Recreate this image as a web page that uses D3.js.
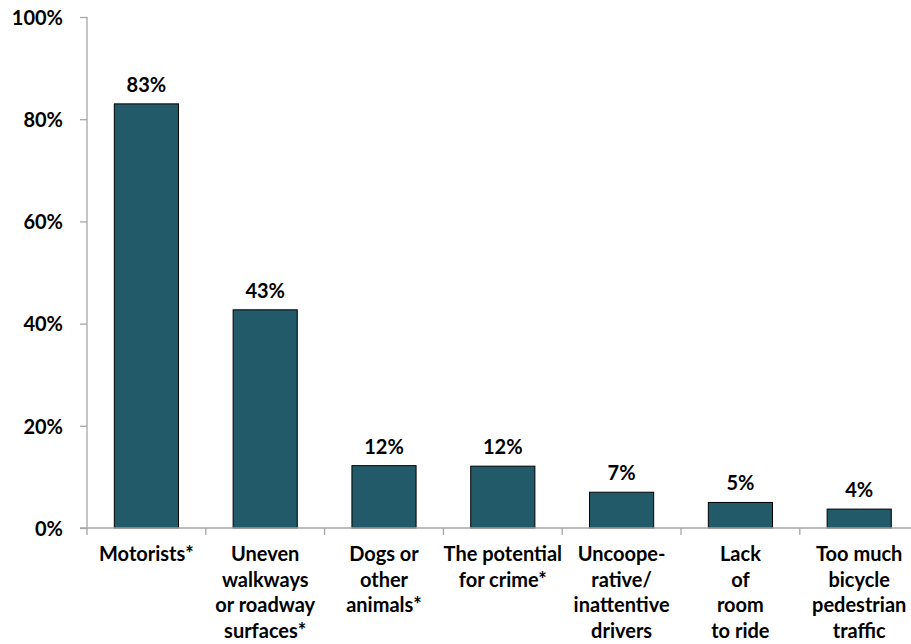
<!DOCTYPE html>
<html><head><meta charset="utf-8">
<script src="https://cdn.jsdelivr.net/npm/d3@7"></script>
<style>body{margin:0;background:#fff}svg{display:block}</style>
</head><body>
<svg id="c" width="911" height="644"></svg>
<script>
const categories = [
  ["Motorists*"],
  ["Uneven","walkways","or roadway","surfaces*"],
  ["Dogs or","other","animals*"],
  ["The potential","for crime*"],
  ["Uncoope-","rative/","inattentive","drivers"],
  ["Lack","of","room","to ride"],
  ["Too much","bicycle","pedestrian","traffic"]
];
const values = [83, 42.7, 12.2, 12.1, 7.0, 5.0, 3.7];
const valueLabels = ["83%","43%","12%","12%","7%","5%","4%"];
const yTicks = [0,20,40,60,80,100];

(function(){
const svg = d3.select("#c");
const font = "Lato, 'Open Sans', sans-serif";
const fs = 20;
const mLeft = 87, mRight = 918.6, mTop = 17, mBottom = 528;
const idx = d3.range(categories.length);
const x = d3.scaleBand().domain(idx).range([mLeft, mRight]).paddingInner(0.46).paddingOuter(0.23);
const y = d3.scaleLinear().domain([0,100]).range([mBottom, mTop]);
const xStep = d3.scaleBand().domain(idx).range([mLeft, mRight]);
const axisColor = "#a6a6a6";

// y axis
const yAxis = svg.append("g").attr("transform", `translate(${mLeft},0)`)
  .call(d3.axisLeft(y).tickValues(yTicks).tickFormat(d => d + "%").tickSize(7).tickPadding(17));
yAxis.select(".domain").attr("stroke", axisColor).attr("stroke-width", 1.3).attr("d", `M0,${mTop}V${mBottom}`);
yAxis.selectAll(".tick line").attr("stroke", axisColor).attr("stroke-width", 1.3);
yAxis.selectAll(".tick text").attr("font-family", font).attr("font-weight", "bold")
  .attr("font-size", fs).attr("fill", "#000").attr("dy", "0.36em");

// bars
svg.selectAll("rect.bar").data(values).join("rect").attr("class","bar")
  .attr("x", (d,i) => x(i)).attr("width", x.bandwidth())
  .attr("y", d => y(d)).attr("height", d => mBottom - y(d))
  .attr("fill", "#235a69").attr("stroke", "#000").attr("stroke-width", 1);

// x axis
const xg = svg.append("g");
xg.append("line").attr("x1", mLeft - 7).attr("x2", mRight).attr("y1", mBottom).attr("y2", mBottom)
  .attr("stroke", axisColor).attr("stroke-width", 1.3);
xg.selectAll("line.t").data(idx.concat([categories.length])).join("line").attr("class","t")
  .attr("x1", i => mLeft + i * xStep.step()).attr("x2", i => mLeft + i * xStep.step())
  .attr("y1", mBottom).attr("y2", mBottom + 7).attr("stroke", axisColor).attr("stroke-width", 1.3);

// value labels
svg.selectAll("text.v").data(values).join("text").attr("class","v")
  .attr("x", (d,i) => x(i) + x.bandwidth()/2).attr("y", d => y(d) - 12)
  .attr("text-anchor","middle").attr("font-family", font).attr("font-weight","bold")
  .attr("font-size", fs).attr("fill","#000").text((d,i) => valueLabels[i]);

// category labels
categories.forEach((lines, i) => {
  const t = svg.append("text").attr("text-anchor","middle").attr("font-family", font)
    .attr("font-weight","bold").attr("font-size", fs).attr("fill","#000");
  lines.forEach((ln, j) => {
    t.append("tspan").attr("x", xStep(i) + xStep.step()/2).attr("y", 561 + j * 25.7).text(ln);
  });
});
})();
</script>
</body></html>
